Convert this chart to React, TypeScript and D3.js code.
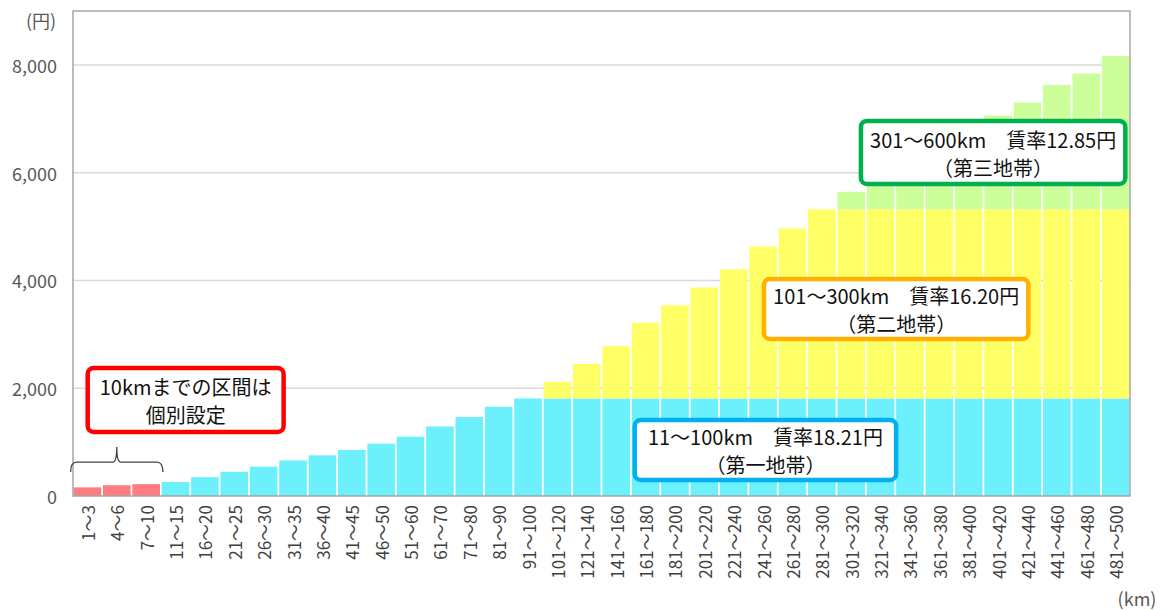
import React from 'react';
import * as d3 from 'd3';

// distance bands (km)
const categories = [
  '1～3', '4～6', '7～10', '11～15', '16～20', '21～25', '26～30', '31～35', '36～40',
  '41～45', '46～50', '51～60', '61～70', '71～80', '81～90', '91～100',
  '101～120', '121～140', '141～160', '161～180', '181～200', '201～220', '221～240',
  '241～260', '261～280', '281～300', '301～320', '321～340', '341～360', '361～380',
  '381～400', '401～420', '421～440', '441～460', '461～480', '481～500',
];

// bands set individually (up to 10km)
const individual = ['1～3', '4～6', '7～10'];

// fare portion per zone (yen)
const zone1 = [
  160, 200, 220, 260, 350, 450, 545, 660, 755, 855, 970, 1100, 1290, 1465, 1655, 1810,
  1810, 1810, 1810, 1810, 1810, 1810, 1810, 1810, 1810, 1810,
  1810, 1810, 1810, 1810, 1810, 1810, 1810, 1810, 1810, 1810,
];
const zone2 = [
  0, 0, 0, 0, 0, 0, 0, 0, 0, 0, 0, 0, 0, 0, 0, 0,
  310, 640, 970, 1405, 1730, 2060, 2395, 2820, 3155, 3510,
  3510, 3510, 3510, 3510, 3510, 3510, 3510, 3510, 3510, 3510,
];
const zone3 = [
  0, 0, 0, 0, 0, 0, 0, 0, 0, 0, 0, 0, 0, 0, 0, 0,
  0, 0, 0, 0, 0, 0, 0, 0, 0, 0,
  325, 600, 880, 1170, 1450, 1740, 1980, 2305, 2520, 2845,
];

const yTicks = [0, 2000, 4000, 6000, 8000];

const W = 1167;
const H = 610;
const margin = { top: 11, right: 37, bottom: 114, left: 73 };

const FONT = '"Noto Sans CJK JP", "Noto Sans", sans-serif';

const App = () => {
  const x = d3.scaleBand()
    .domain(categories)
    .range([margin.left, W - margin.right])
    .paddingInner(0.06)
    .paddingOuter(0.02);

  const y = d3.scaleLinear()
    .domain([0, 9000])
    .range([H - margin.bottom, margin.top]);

  const rows = categories.map((c, i) => ({ cat: c, z1: zone1[i], z2: zone2[i], z3: zone3[i] }));
  const stack = d3.stack().keys(['z1', 'z2', 'z3'])(rows as any);

  const colorFor = (key: string, cat: string) => {
    if (key === 'z1') return individual.includes(cat) ? '#ff7c80' : '#6cf0fc';
    if (key === 'z2') return '#ffff66';
    return '#ccff99';
  };

  // position in band units (0 = left edge of first band)
  const xAt = (f: number) => x.range()[0] + x.step() * x.paddingOuter() + f * x.step();

  // annotation boxes: band positions and values
  const notes = [
    { x0: 0.48, x1: 7.15, v0: 2376, v1: 1188, color: '#ff0000', lines: ['10kmまでの区間は', '個別設定'] },
    { x0: 19.1, x1: 28.0, v0: 1411, v1: 297, color: '#00b0f0', lines: ['11～100km\u3000賃率18.21円', '（第一地帯）'] },
    { x0: 23.5, x1: 32.5, v0: 4028, v1: 2914, color: '#ffb000', lines: ['101～300km\u3000賃率16.20円', '（第二地帯）'] },
    { x0: 26.8, x1: 35.8, v0: 6961, v1: 5791, color: '#00b050', lines: ['301～600km\u3000賃率12.85円', '（第三地帯）'] },
  ];

  // bracket over the individually set bands
  const bL = (x(individual[0]) as number) - 3;
  const bR = (x(individual[individual.length - 1]) as number) + x.bandwidth() + 3;
  const bM = (bL + bR) / 2;
  const bY = y(630);
  const bracket = `M${bL},${bY + 10} Q${bL},${bY} ${bL + 6},${bY} L${bM - 4},${bY} Q${bM},${bY} ${bM},${bY - 15}`
    + ` Q${bM},${bY} ${bM + 4},${bY} L${bR - 6},${bY} Q${bR},${bY} ${bR},${bY + 10}`;

  const x0 = x.range()[0];
  const x1 = x.range()[1];

  return (
    <svg width={W} height={H} style={{ position: 'absolute', left: 0, top: 0, background: '#fff' }} fontFamily={FONT}>
      {/* gridlines */}
      {yTicks.filter(t => t > 0).map(t => (
        <line key={t} x1={x0} x2={x1} y1={y(t)} y2={y(t)} stroke="#d9d9d9" strokeWidth={1.5} />
      ))}

      {/* bars */}
      {stack.map(layer => (
        <g key={layer.key}>
          {layer.map((d: any, i: number) => (
            d[1] - d[0] > 0 ? (
              <rect key={i}
                x={x(categories[i])}
                width={x.bandwidth()}
                y={y(d[1])}
                height={y(d[0]) - y(d[1])}
                fill={colorFor(layer.key, categories[i])} />
            ) : null
          ))}
        </g>
      ))}

      {/* frame */}
      <rect x={x0} y={y(9000)} width={x1 - x0} height={y(0) - y(9000)} fill="none" stroke="#a6a6a6" strokeWidth={1.5} />

      {/* y axis labels */}
      {yTicks.map(t => (
        <text key={t} x={x0 - 16} y={y(t)} textAnchor="end" dominantBaseline="central" fontSize={18} fill="#595959">
          {d3.format(',')(t)}
        </text>
      ))}
      <text x={41} y={20} textAnchor="middle" dominantBaseline="central" fontSize={18} fill="#595959">(円)</text>

      {/* x axis labels */}
      {categories.map(c => (
        <text key={c}
          transform={`translate(${(x(c) as number) + x.bandwidth() / 2},${y(0) + 9}) rotate(-90)`}
          textAnchor="end" dominantBaseline="central" fontSize={17} fill="#404040">
          {c}
        </text>
      ))}
      <text x={1137} y={598} textAnchor="middle" dominantBaseline="central" fontSize={18} fill="#595959">(km)</text>

      {/* bracket */}
      <path d={bracket} fill="none" stroke="#404040" strokeWidth={1.3} />

      {/* annotation boxes */}
      {notes.map((n, i) => {
        const left = xAt(n.x0);
        const right = xAt(n.x1);
        const top = y(n.v0);
        const bottom = y(n.v1);
        const cx = (left + right) / 2;
        const cy = (top + bottom) / 2;
        return (
          <g key={i}>
            <rect x={left} y={top} width={right - left} height={bottom - top} rx={6}
              fill="#fff" stroke={n.color} strokeWidth={4.5} />
            <text x={cx} y={cy - 13} textAnchor="middle" dominantBaseline="central" fontSize={20} fill="#111">{n.lines[0]}</text>
            <text x={cx} y={cy + 15} textAnchor="middle" dominantBaseline="central" fontSize={20} fill="#111">{n.lines[1]}</text>
          </g>
        );
      })}
    </svg>
  );
};

export default App;
